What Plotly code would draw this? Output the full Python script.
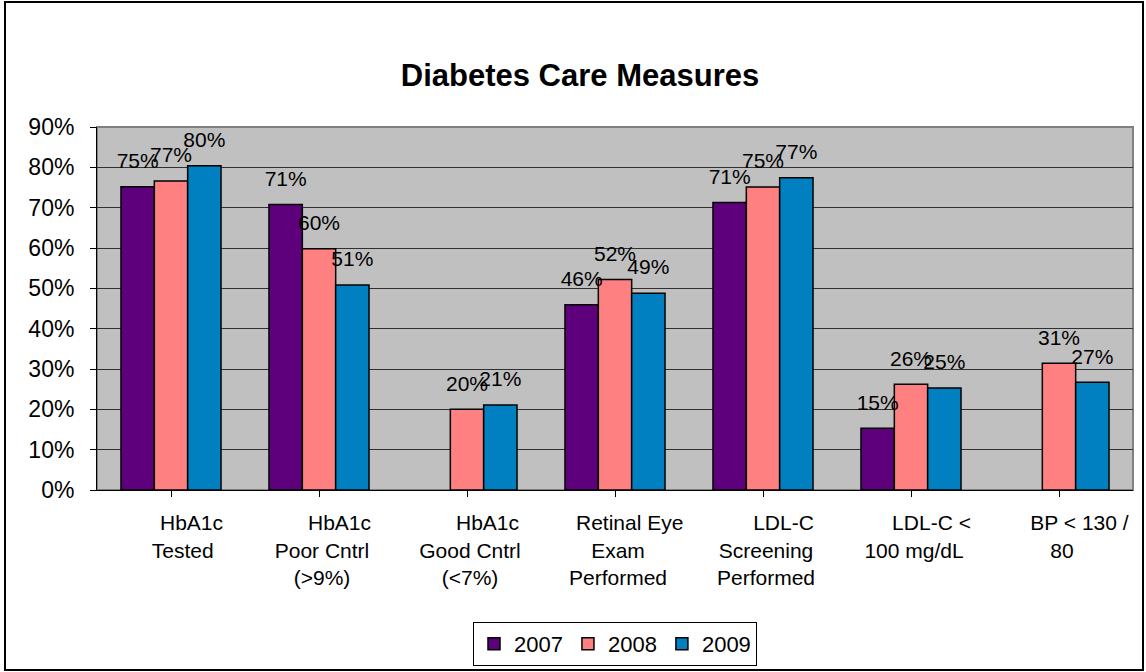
import plotly.graph_objects as go

categories = ["HbA1c Tested", "HbA1c Poor Cntrl (>9%)", "HbA1c Good Cntrl (<7%)",
              "Retinal Eye Exam Performed", "LDL-C Screening Performed",
              "LDL-C < 100 mg/dL", "BP < 130 / 80"]
tick_labels = ["\u00a0" * 6 + "HbA1c<br>" + "\u00a0" * 3 + "Tested",
               "\u00a0" * 6 + "HbA1c<br>Poor Cntrl<br>(&gt;9%)",
               "\u00a0" * 6 + "HbA1c<br>Good Cntrl<br>(&lt;7%)",
               "\u00a0" * 4 + "Retinal Eye<br>Exam<br>Performed",
               "\u00a0" * 6 + "LDL-C<br>Screening<br>Performed",
               "\u00a0" * 6 + "LDL-C &lt;<br>100 mg/dL",
               "\u00a0" * 6 + "BP &lt; 130 /<br>80"]
years = ["2007", "2008", "2009"]
v2007 = [0.752, 0.708, None, 0.459, 0.713, 0.153, None]
v2008 = [0.766, 0.598, 0.200, 0.522, 0.751, 0.262, 0.314]
v2009 = [0.804, 0.508, 0.211, 0.488, 0.774, 0.253, 0.267]
series = [v2007, v2008, v2009]
colors = ["#5E007C", "#FF8080", "#0080C0"]

W, H = 1146, 672
ml, mr, mt, mb = 97, 13, 127, 182
pw, ph = W - ml - mr, H - mt - mb

fig = go.Figure()
for i, (yr, vals, c) in enumerate(zip(years, series, colors)):
    fig.add_trace(go.Bar(
        x=categories, y=vals, name=yr, marker_color=c,
        marker_line=dict(color="black", width=1.5),
        offsetgroup=str(i), alignmentgroup="g",
    ))
for i, (yr, vals) in enumerate(zip(years, series)):
    fig.add_trace(go.Scatter(
        x=categories, y=vals, mode="markers+text", orientation="v",
        text=[None if v is None else f"{round(v * 100):.0f}%" for v in vals],
        textposition="top center",
        textfont=dict(size=21, color="black", family="Liberation Sans, Arial"),
        marker=dict(size=20, opacity=0),
        offsetgroup=str(i), alignmentgroup="g",
        showlegend=False, hoverinfo="skip", cliponaxis=False,
    ))

bargap = 0.324
fig.update_layout(
    width=W, height=H, autosize=False,
    margin=dict(l=ml, r=mr, t=mt, b=mb, autoexpand=False),
    paper_bgcolor="white", plot_bgcolor="#C0C0C0",
    barmode="group", bargap=bargap, bargroupgap=0,
    scattermode="group", scattergap=bargap,
    font=dict(family="Liberation Sans, Arial", color="black"),
    title=dict(text="<b>Diabetes Care Measures</b>", x=580 / W, xanchor="center",
               y=1 - 75 / H, yanchor="middle",
               font=dict(size=31, color="black")),
    legend=dict(orientation="h", xref="paper", x=0.5, xanchor="center",
                yref="container", y=1 - 622 / H, yanchor="top",
                bordercolor="black", borderwidth=1, bgcolor="white",
                font=dict(size=22), traceorder="normal", itemwidth=30),
    xaxis=dict(showline=True, linecolor="black", linewidth=1,
               ticks="outside", ticklen=6, tickcolor="black",
               tickvals=categories, ticktext=tick_labels,
               tickfont=dict(size=21), showgrid=False, automargin=False,
               ticklabelshift=3, ticklabelstandoff=8),
    yaxis=dict(range=[0, 0.9], dtick=0.1, tickformat=".0%",
               showline=True, linecolor="black", linewidth=1,
               ticks="outside", ticklen=6, tickcolor="black",
               gridcolor="#303030", gridwidth=1, zeroline=False, automargin=False,
               tickfont=dict(size=23), ticklabelstandoff=11),
    shapes=[
        dict(type="rect", xref="paper", yref="paper", x0=0, x1=1, y0=0, y1=1,
             line=dict(color="#808080", width=2), layer="below"),
        dict(type="rect", xref="paper", yref="paper",
             x0=(5 - ml) / pw, x1=(1143 - ml) / pw,
             y0=(490 - 670) / ph, y1=(490 - 2) / ph,
             line=dict(color="black", width=2)),
    ],
)

fig.write_html("out.html", config={"displayModeBar": False},
               post_script="document.body.style.margin='0';")
